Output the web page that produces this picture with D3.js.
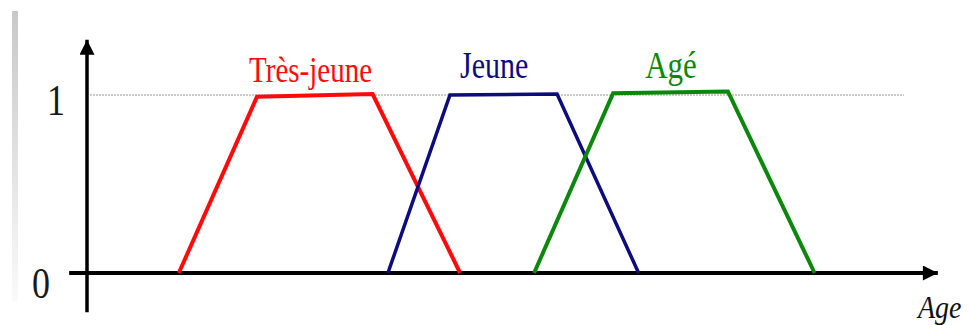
<!DOCTYPE html>
<head>
  <meta charset="utf-8">
  <title>Fonctions d'appartenance - Age</title>
  <script type="text/javascript" src="https://d3js.org/d3.v7.min.js"></script>
  <style type="text/css">
  body {
      margin: 0;
      background: white;
    }
  text {
      font-family: "Liberation Serif", "Times New Roman", serif;
    }
  </style>
</head>
<body>
  <script type="text/javascript">

    // Data (age units, membership degree)
    var categories = ["Très-jeune", "Jeune", "Agé"];
    var tresJeune = [[10.8, 0], [20.0, 0.99], [33.6, 1.005], [43.9, 0]];
    var jeune = [[35.4, 0], [42.7, 1.0], [55.3, 1.005], [64.9, 0]];
    var age = [[52.6, 0], [61.9, 1.01], [75.4, 1.02], [85.6, 0]];
    var series = [tresJeune, jeune, age];
    var yTicks = [0, 1];
    var tickLabels = ["0", "1"];
    var axisTitle = "Age";
    var colors = ["#ff0a0a", "#0c0c7e", "#0b880b"];

    var width = 970, height = 325;

    // Scales
    var x = d3.scaleLinear().domain([0, 100]).range([87, 937]);
    var y = d3.scaleLinear().domain([0, 1]).range([273, 95]);

    var svg = d3.select("body").append("svg")
      .attr("width", width)
      .attr("height", height);

    // Grey bar on the left edge
    var grad = svg.append("defs").append("linearGradient")
      .attr("id", "edge")
      .attr("x1", 0).attr("y1", 0).attr("x2", 0).attr("y2", 1);
    grad.append("stop").attr("offset", "0%").attr("stop-color", "#c8c8c8");
    grad.append("stop").attr("offset", "100%").attr("stop-color", "#fafafa");
    svg.append("rect")
      .attr("x", 12).attr("y", 11)
      .attr("width", 6).attr("height", 290)
      .attr("fill", "url(#edge)");

    // Dotted reference line at 1
    svg.append("line")
      .attr("x1", x(0) + 3).attr("x2", x(96.1))
      .attr("y1", y(1)).attr("y2", y(1))
      .attr("stroke", "#9a9a9a")
      .attr("stroke-width", 1.2)
      .attr("stroke-dasharray", "2,1");

    // Arrow heads
    var defs = svg.select("defs");
    defs.append("marker")
      .attr("id", "arrow")
      .attr("viewBox", "0 0 10 10")
      .attr("refX", 10).attr("refY", 5)
      .attr("markerUnits", "userSpaceOnUse")
      .attr("markerWidth", 16).attr("markerHeight", 15)
      .attr("orient", "auto")
      .append("path")
      .attr("d", "M0,0 L10,5 L0,10 Z")
      .attr("fill", "black");

    // Y axis
    svg.append("line")
      .attr("x1", x(0)).attr("x2", x(0))
      .attr("y1", y(-0.22)).attr("y2", y(1.31))
      .attr("stroke", "black")
      .attr("stroke-width", 3.5)
      .attr("marker-end", "url(#arrow)");

    // X axis
    svg.append("line")
      .attr("x1", x(-2.1)).attr("x2", x(100.1))
      .attr("y1", y(0)).attr("y2", y(0))
      .attr("stroke", "black")
      .attr("stroke-width", 4)
      .attr("marker-end", "url(#arrow)");

    // Tick labels
    var tickX = [50, 65];
    svg.selectAll(".tick-label")
      .data(yTicks)
      .enter().append("text")
      .attr("class", "tick-label")
      .attr("text-anchor", "end")
      .attr("transform", function(d, i) {
        return "translate(" + tickX[i] + "," + (y(d) + (i == 0 ? 25 : 20)) + ") scale(1,1.25)";
      })
      .attr("font-size", 36)
      .attr("fill", "#1a1a1a")
      .text(function(d, i) { return tickLabels[i]; });

    // Axis title
    svg.append("text")
      .attr("transform", "translate(918,318) scale(1,1.15)")
      .attr("font-size", 28)
      .attr("font-style", "italic")
      .attr("fill", "#111")
      .text(axisTitle);

    // Membership functions
    var line = d3.line()
      .x(function(d) { return x(d[0]); })
      .y(function(d) { return y(d[1]); });

    svg.selectAll(".mf")
      .data(series)
      .enter().append("path")
      .attr("class", "mf")
      .attr("d", line)
      .attr("fill", "none")
      .attr("stroke", function(d, i) { return colors[i]; })
      .attr("stroke-width", function(d, i) { return i == 1 ? 3.5 : 4; })
      .attr("stroke-linejoin", "miter");

    // Series labels
    var labelPos = [[26.3, 82], [47.9, 78], [68.7, 78]];
    var labelSize = [29, 30, 31];
    svg.selectAll(".mf-label")
      .data(categories)
      .enter().append("text")
      .attr("class", "mf-label")
      .attr("text-anchor", "middle")
      .attr("transform", function(d, i) {
        return "translate(" + x(labelPos[i][0]) + "," + labelPos[i][1] + ") scale(1,1.25)";
      })
      .attr("font-size", function(d, i) { return labelSize[i]; })
      .attr("fill", function(d, i) { return colors[i]; })
      .text(function(d) { return d; });

  </script>

</body>
</html>
